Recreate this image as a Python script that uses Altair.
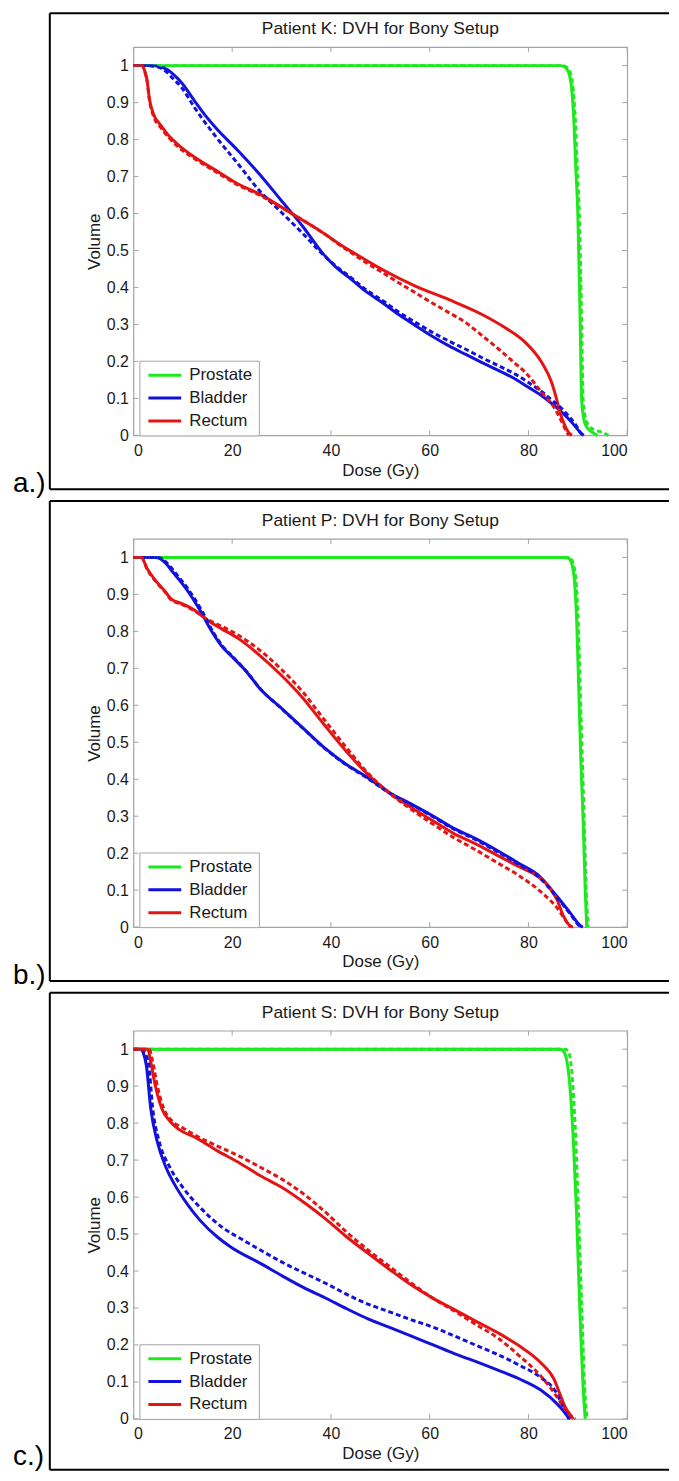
import altair as alt
import pandas as pd

# ---------------- data ----------------
DOSE_TICKS = [0, 20, 40, 60, 80, 100]
VOLUME_TICKS = [0, 0.1, 0.2, 0.3, 0.4, 0.5, 0.6, 0.7, 0.8, 0.9, 1]
ORGANS = ["Prostate", "Bladder", "Rectum"]
ORGAN_COLORS = ["#1ee81e", "#1212dc", "#e41414"]
PANEL_TITLES = ["Patient K: DVH for Bony Setup",
                "Patient P: DVH for Bony Setup",
                "Patient S: DVH for Bony Setup"]
PANEL_TAGS = ["a.)", "b.)", "c.)"]

# Patient K
K_PROSTATE_SOLID = [(0, 1), (86.5, 1), (87.5, 0.995), (88.3, 0.975), (88.8, 0.93), (89.2, 0.85),
                    (89.6, 0.72), (90.0, 0.6), (90.4, 0.36), (90.8, 0.09), (91.2, 0.045),
                    (91.7, 0.025), (92.5, 0.012), (93.3, 0.005), (94.0, 0)]
K_PROSTATE_DASHED = [(0, 1), (86.8, 1), (87.8, 0.995), (88.6, 0.975), (89.1, 0.93), (89.5, 0.85),
                     (89.9, 0.72), (90.3, 0.6), (90.7, 0.36), (91.1, 0.09), (91.6, 0.045),
                     (92.3, 0.025), (93.3, 0.015), (94.5, 0.01), (95.5, 0.005), (96.2, 0)]
K_BLADDER_SOLID = [(0, 1), (3.5, 1), (5.4, 0.997), (7.0, 0.988), (8.2, 0.975), (9.8, 0.953),
                   (12.4, 0.904), (14.5, 0.866), (16.8, 0.83), (21.2, 0.77), (25.5, 0.707),
                   (29.9, 0.636), (34.3, 0.565), (38.3, 0.493), (41.0, 0.455), (43.75, 0.426),
                   (47.0, 0.39), (50.5, 0.358), (53.8, 0.326), (57.2, 0.296), (60.5, 0.268),
                   (63.9, 0.242), (67.3, 0.219), (70.6, 0.197), (74.0, 0.175), (77.4, 0.152),
                   (80.0, 0.13), (82.7, 0.107), (84.8, 0.085), (86.8, 0.062), (88.8, 0.035),
                   (90.8, 0.004), (91.2, 0)]
K_BLADDER_DASHED = [(0, 1), (3.0, 1), (5.0, 0.996), (6.5, 0.985), (8.0, 0.965), (9.8, 0.94),
                    (12.4, 0.886), (16.8, 0.806), (21.2, 0.734), (25.5, 0.662), (29.9, 0.604),
                    (34.3, 0.546), (38.3, 0.49), (41.0, 0.458), (43.75, 0.43), (47.0, 0.395),
                    (50.5, 0.364), (53.8, 0.333), (57.2, 0.305), (60.5, 0.279), (63.9, 0.255),
                    (67.3, 0.233), (70.6, 0.21), (74.0, 0.188), (77.4, 0.165), (80.0, 0.143),
                    (82.7, 0.118), (84.8, 0.095), (86.8, 0.072), (88.3, 0.05), (89.5, 0.03),
                    (90.5, 0.008), (91.0, 0)]
K_RECTUM_SOLID = [(0, 1), (1.8, 1), (2.4, 0.98), (2.8, 0.958), (3.2, 0.913), (4.1, 0.868),
                  (5.4, 0.841), (7.2, 0.81), (8.9, 0.788), (12.4, 0.752), (16.8, 0.716),
                  (21.2, 0.68), (25.5, 0.653), (29.9, 0.618), (34.3, 0.582), (38.6, 0.546),
                  (42.0, 0.515), (45.1, 0.49), (50.5, 0.448), (57.2, 0.403), (63.9, 0.367),
                  (70.6, 0.327), (75.3, 0.291), (79.4, 0.251), (82.7, 0.197), (84.7, 0.143),
                  (85.7, 0.098), (86.4, 0.062), (87.4, 0.026), (88.4, 0.004), (88.8, 0)]
K_RECTUM_DASHED = [(0, 1), (1.8, 1), (2.4, 0.98), (2.8, 0.955), (3.2, 0.91), (4.1, 0.862),
                   (5.4, 0.835), (7.2, 0.805), (8.9, 0.782), (12.4, 0.748), (16.8, 0.712),
                   (21.2, 0.677), (25.5, 0.65), (29.9, 0.617), (34.3, 0.582), (38.6, 0.546),
                   (42.0, 0.513), (45.1, 0.485), (48.0, 0.46), (50.5, 0.44), (53.8, 0.412),
                   (57.2, 0.385), (60.5, 0.358), (63.9, 0.332), (67.3, 0.305), (70.6, 0.27),
                   (74.0, 0.233), (77.0, 0.198), (79.4, 0.17), (82.7, 0.116), (85.4, 0.071),
                   (86.8, 0.035), (87.8, 0.008), (88.2, 0)]

# Patient P
P_PROSTATE_SOLID = [(0, 1), (87.6, 1), (88.1, 0.998), (88.6, 0.99), (89.0, 0.97), (89.3, 0.94),
                    (89.8, 0.817), (90.2, 0.638), (90.6, 0.459), (91.1, 0.28), (91.5, 0.1),
                    (91.8, 0)]
P_PROSTATE_DASHED = [(0, 1), (87.9, 1), (88.4, 0.998), (88.9, 0.99), (89.3, 0.97), (89.6, 0.94),
                     (90.1, 0.817), (90.5, 0.638), (90.9, 0.459), (91.3, 0.28), (91.7, 0.1),
                     (92.1, 0)]
P_BLADDER_SOLID = [(0, 1), (4.5, 1), (5.2, 0.998), (6.3, 0.987), (8.0, 0.96), (10.7, 0.915),
                   (13.3, 0.861), (15.9, 0.799), (17.7, 0.763), (20.3, 0.727), (22.9, 0.691),
                   (25.5, 0.647), (29.9, 0.593), (34.3, 0.539), (38.6, 0.486), (43.0, 0.441),
                   (47.4, 0.405), (51.7, 0.365), (56.1, 0.334), (60.5, 0.302), (64.9, 0.267),
                   (69.2, 0.24), (73.6, 0.208), (78.0, 0.173), (82.3, 0.137), (85.8, 0.083),
                   (88.5, 0.038), (90.6, 0.003), (91.0, 0)]
P_BLADDER_DASHED = [(0, 1), (4.8, 1), (5.6, 0.998), (6.8, 0.985), (8.5, 0.958), (11.2, 0.912),
                    (13.8, 0.857), (16.2, 0.797), (18.0, 0.761), (20.5, 0.726), (23.0, 0.69),
                    (25.6, 0.646), (29.9, 0.592), (34.3, 0.538), (38.6, 0.485), (43.0, 0.44),
                    (47.4, 0.403), (51.7, 0.364), (56.1, 0.333), (60.5, 0.3), (64.9, 0.265),
                    (69.2, 0.237), (73.6, 0.205), (78.0, 0.17), (82.3, 0.133), (85.8, 0.08),
                    (88.5, 0.035), (90.4, 0.003), (90.8, 0)]
P_RECTUM_SOLID = [(0, 1), (1.6, 1), (2.8, 0.969), (4.5, 0.937), (6.3, 0.91), (7.6, 0.888),
                  (9.8, 0.875), (12.4, 0.857), (15.0, 0.83), (17.7, 0.808), (21.2, 0.781),
                  (25.5, 0.736), (29.9, 0.682), (34.3, 0.62), (38.6, 0.548), (43.0, 0.477),
                  (47.4, 0.414), (51.7, 0.365), (56.1, 0.325), (60.5, 0.289), (64.9, 0.253),
                  (69.2, 0.226), (73.6, 0.195), (78.0, 0.164), (81.5, 0.141), (84.1, 0.11),
                  (85.8, 0.074), (87.1, 0.03), (88.5, 0.003), (89.0, 0)]
P_RECTUM_DASHED = [(0, 1), (1.6, 1), (2.8, 0.967), (4.5, 0.935), (6.3, 0.908), (7.6, 0.886),
                   (9.8, 0.873), (12.4, 0.855), (15.0, 0.832), (17.7, 0.815), (21.2, 0.79),
                   (25.5, 0.75), (29.9, 0.698), (34.3, 0.636), (38.6, 0.562), (43.0, 0.488),
                   (47.4, 0.418), (51.7, 0.364), (56.1, 0.32), (60.5, 0.28), (64.9, 0.242),
                   (69.2, 0.21), (73.6, 0.175), (78.0, 0.14), (82.3, 0.098), (85.8, 0.052),
                   (88.1, 0.007), (88.5, 0)]

# Patient S
S_PROSTATE_SOLID = [(0, 1), (86.5, 1), (87.3, 0.99), (88.0, 0.95), (88.4, 0.9), (89.1, 0.75),
                    (89.7, 0.57), (90.4, 0.3), (91.1, 0.08), (91.5, 0)]
S_PROSTATE_DASHED = [(0, 1), (87.5, 1), (88.2, 0.99), (88.7, 0.95), (89.0, 0.9), (89.6, 0.75),
                     (90.1, 0.57), (90.8, 0.3), (91.4, 0.08), (91.9, 0)]
S_BLADDER_SOLID = [(0, 1), (1.5, 1), (2.0, 0.99), (2.6, 0.957), (3.5, 0.84), (4.8, 0.751),
                   (6.6, 0.68), (8.3, 0.635), (10.9, 0.581), (13.5, 0.537), (17.0, 0.492),
                   (19.7, 0.465), (25.8, 0.42), (30.1, 0.387), (34.5, 0.355), (38.9, 0.327),
                   (43.2, 0.298), (47.6, 0.27), (52.0, 0.247), (56.3, 0.224), (60.7, 0.2),
                   (65.1, 0.176), (69.4, 0.155), (73.8, 0.132), (78.2, 0.108), (82.5, 0.078),
                   (86.0, 0.038), (87.8, 0.009), (88.2, 0)]
S_BLADDER_DASHED = [(0, 1), (1.7, 1), (2.3, 0.99), (3.1, 0.957), (3.9, 0.84), (5.2, 0.751),
                    (7.4, 0.68), (10.0, 0.626), (13.5, 0.572), (17.9, 0.519), (22.3, 0.483),
                    (25.8, 0.456), (30.1, 0.424), (34.5, 0.395), (38.9, 0.367), (43.2, 0.337),
                    (47.6, 0.31), (52.0, 0.289), (56.3, 0.268), (60.7, 0.248), (65.1, 0.224),
                    (69.4, 0.199), (73.8, 0.174), (78.2, 0.145), (82.5, 0.112), (85.6, 0.072),
                    (86.9, 0.036), (88.2, 0.004), (88.5, 0)]
S_RECTUM_SOLID = [(0, 1), (2.9, 1), (3.5, 0.966), (4.4, 0.903), (5.7, 0.841), (7.4, 0.805),
                  (9.2, 0.783), (12.7, 0.76), (17.0, 0.725), (21.4, 0.693), (25.8, 0.657),
                  (30.1, 0.626), (34.5, 0.586), (38.9, 0.541), (43.2, 0.492), (47.6, 0.447),
                  (52.0, 0.403), (56.3, 0.362), (60.7, 0.326), (65.1, 0.295), (69.4, 0.264),
                  (73.8, 0.233), (78.2, 0.197), (82.5, 0.152), (85.2, 0.107), (86.5, 0.063),
                  (87.3, 0.036), (88.6, 0.009), (89.1, 0)]
S_RECTUM_DASHED = [(0, 1), (3.2, 1), (3.9, 0.966), (4.8, 0.903), (6.1, 0.841), (7.9, 0.805),
                   (10.0, 0.787), (13.5, 0.76), (17.0, 0.738), (21.4, 0.711), (25.8, 0.68),
                   (30.1, 0.648), (34.5, 0.608), (38.9, 0.559), (43.2, 0.505), (47.6, 0.456),
                   (52.0, 0.411), (56.3, 0.367), (60.7, 0.326), (65.1, 0.291), (69.4, 0.255),
                   (73.8, 0.219), (78.2, 0.17), (82.5, 0.116), (84.7, 0.08), (86.5, 0.045),
                   (88.2, 0.013), (89.5, 0)]

PANEL_CURVES = [
    [("Prostate", "solid", K_PROSTATE_SOLID), ("Bladder", "solid", K_BLADDER_SOLID),
     ("Rectum", "solid", K_RECTUM_SOLID), ("Prostate", "dashed", K_PROSTATE_DASHED),
     ("Bladder", "dashed", K_BLADDER_DASHED), ("Rectum", "dashed", K_RECTUM_DASHED)],
    [("Prostate", "solid", P_PROSTATE_SOLID), ("Bladder", "solid", P_BLADDER_SOLID),
     ("Rectum", "solid", P_RECTUM_SOLID), ("Prostate", "dashed", P_PROSTATE_DASHED),
     ("Bladder", "dashed", P_BLADDER_DASHED), ("Rectum", "dashed", P_RECTUM_DASHED)],
    [("Prostate", "solid", S_PROSTATE_SOLID), ("Bladder", "solid", S_BLADDER_SOLID),
     ("Rectum", "solid", S_RECTUM_SOLID), ("Prostate", "dashed", S_PROSTATE_DASHED),
     ("Bladder", "dashed", S_BLADDER_DASHED), ("Rectum", "dashed", S_RECTUM_DASHED)],
]

# ---------------- styling ----------------
FONT = "Liberation Sans, Arial, Helvetica, sans-serif"
TEXT = "#1a1a1a"
FRAME = "#a4a4a4"
W, H = 496, 390

X = alt.X("dose:Q",
          scale=alt.Scale(domain=[0, 100], nice=False, zero=False),
          axis=alt.Axis(values=DOSE_TICKS, title="Dose (Gy)", titleX=248, titleY=40,
                        titleBaseline="alphabetic", titleAlign="center", labelPadding=7))
Y = alt.Y("volume:Q",
          scale=alt.Scale(domain=[0, 1.05], nice=False),
          axis=alt.Axis(values=VOLUME_TICKS, format="~g", title="Volume", titleX=-34,
                        titleY=195, titleAngle=-90, titleBaseline="alphabetic",
                        titleAlign="center", labelPadding=5))
COLOR = alt.Color("organ:N",
                  scale=alt.Scale(domain=ORGANS, range=ORGAN_COLORS),
                  legend=alt.Legend(title=None, orient="none", legendX=6, legendY=315,
                                    symbolType="M-1,0L5,0", symbolSize=121,
                                    symbolStrokeWidth=3, labelFontSize=17, labelFont=FONT,
                                    labelColor=TEXT, labelOffset=27, padding=6, rowPadding=5,
                                    strokeColor=FRAME, fillColor="white"))

ONE = pd.DataFrame({"k": [0]})
XT = pd.DataFrame({"dose": DOSE_TICKS})
YT = pd.DataFrame({"volume": VOLUME_TICKS})


def curves_frame(curves):
    rows = []
    for organ, plan, pts in curves:
        for d, v in pts:
            rows.append({"organ": organ, "plan": plan, "dose": d, "volume": v})
    return pd.DataFrame(rows)


def panel(i):
    df = curves_frame(PANEL_CURVES[i])
    top = -34 if i == 0 else -38
    bottom = 441 if i == 2 else 444
    layers = []
    if i == 0:
        layers.append(alt.Chart(ONE).mark_rect(opacity=0).encode(
            x=alt.value(-125), x2=alt.value(-124), y=alt.value(-35), y2=alt.value(-34)))
    if i == 2:
        layers.append(alt.Chart(ONE).mark_rect(opacity=0).encode(
            x=alt.value(537), x2=alt.value(538), y=alt.value(441), y2=alt.value(442)))
    box = alt.Chart(ONE).mark_rule(color="black", strokeWidth=2)
    layers += [
        box.encode(x=alt.value(-84), x2=alt.value(538), y=alt.value(top)),
        box.encode(x=alt.value(-84), x2=alt.value(538), y=alt.value(bottom)),
        box.encode(x=alt.value(-84), y=alt.value(top), y2=alt.value(bottom)),
    ]
    tick = dict(color=FRAME, strokeWidth=1)
    layers += [
        alt.Chart(XT).mark_rule(**tick).encode(x=X, y=alt.value(H), y2=alt.value(H - 5)),
        alt.Chart(XT).mark_rule(**tick).encode(x=X, y=alt.value(0), y2=alt.value(5)),
        alt.Chart(YT).mark_rule(**tick).encode(y=Y, x=alt.value(0), x2=alt.value(5)),
        alt.Chart(YT).mark_rule(**tick).encode(y=Y, x=alt.value(W), x2=alt.value(W - 5)),
    ]
    layers.append(
        alt.Chart(df).transform_filter(alt.datum.plan == "solid")
        .mark_line(strokeWidth=3, interpolate="monotone", strokeJoin="round")
        .encode(x=X, y=Y, color=COLOR))
    layers.append(
        alt.Chart(df).transform_filter(alt.datum.plan == "dashed")
        .mark_line(strokeWidth=3, interpolate="monotone", strokeDash=[5, 3])
        .encode(x=X, y=Y, color=COLOR))
    layers.append(
        alt.Chart(ONE).mark_text(text=PANEL_TITLES[i], font=FONT, fontSize=17.5, color=TEXT,
                                 align="center", baseline="alphabetic")
        .encode(x=alt.value(248), y=alt.value(-13)))
    tag_y = 436 if i == 2 else 447
    layers.append(
        alt.Chart(ONE).mark_text(text=PANEL_TAGS[i], font=FONT, fontSize=28, color="black",
                                 align="left", baseline="alphabetic")
        .encode(x=alt.value(-121), y=alt.value(tag_y)))
    return alt.layer(*layers).properties(width=W, height=H)


chart = (
    alt.vconcat(panel(0), panel(1), panel(2), spacing=104, bounds="flush")
    .resolve_legend(color="independent")
    .properties(padding=0)
    .configure(font=FONT)
    .configure_view(stroke=FRAME, strokeWidth=1.2)
    .configure_axis(domain=False, ticks=False, tickSize=0, grid=False,
                    labelFont=FONT, labelFontSize=16, labelColor=TEXT,
                    titleFont=FONT, titleFontSize=17, titleFontWeight="normal",
                    titleColor=TEXT)
)

chart.save("out.html", embed_options={"renderer": "svg", "actions": False})
